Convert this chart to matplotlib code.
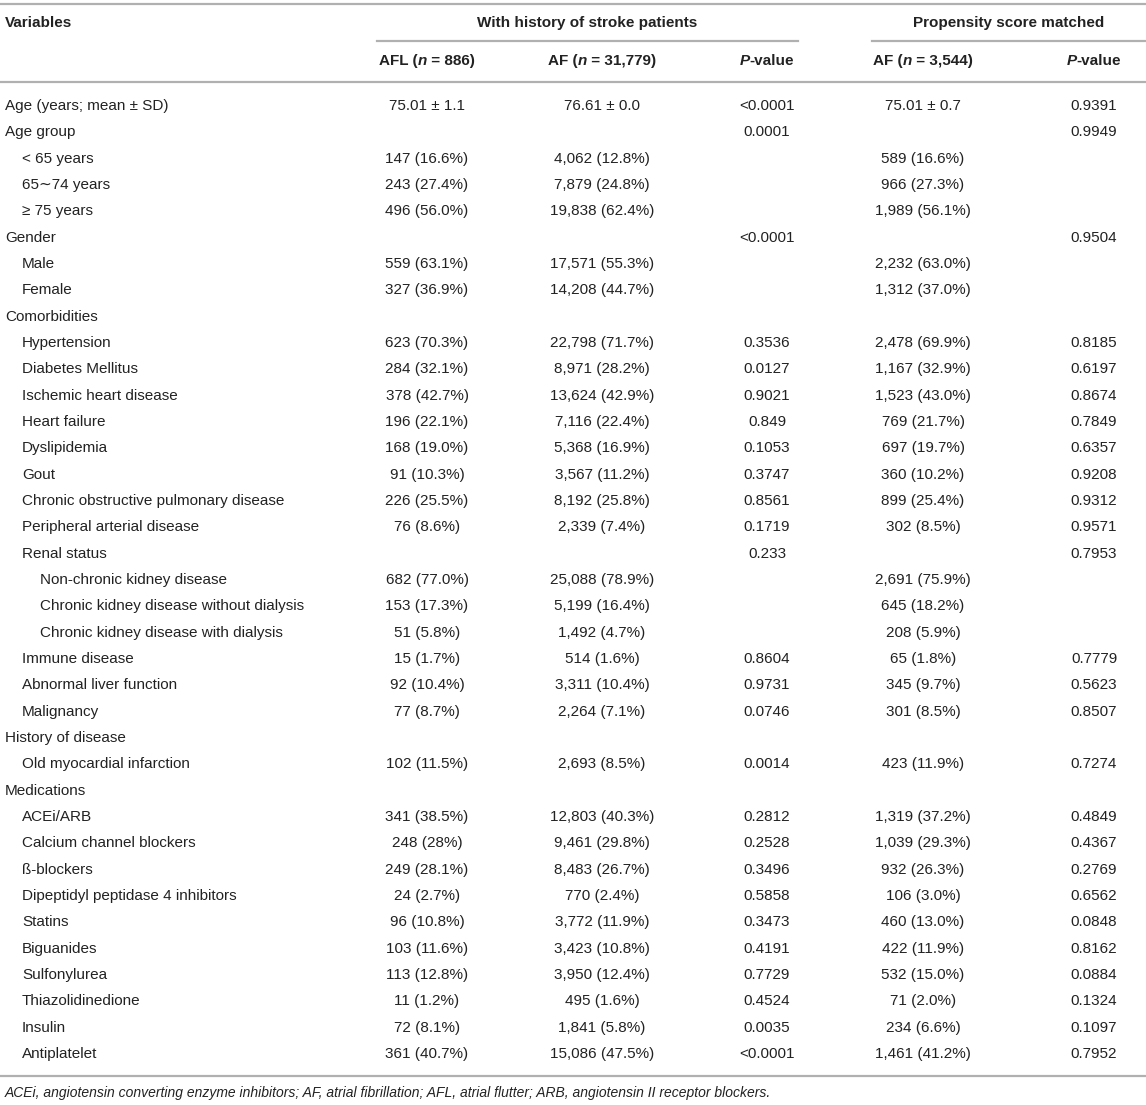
import matplotlib
matplotlib.use("Agg")
import matplotlib.pyplot as plt
from matplotlib.lines import Line2D

W, H = 1146, 1105

# ---- table content -------------------------------------------------------
labels = [
    "Age (years; mean \u00b1 SD)", "Age group", "< 65 years", "65\u223c74 years",
    "\u2265 75 years", "Gender", "Male", "Female", "Comorbidities",
    "Hypertension", "Diabetes Mellitus", "Ischemic heart disease",
    "Heart failure", "Dyslipidemia", "Gout",
    "Chronic obstructive pulmonary disease", "Peripheral arterial disease",
    "Renal status", "Non-chronic kidney disease",
    "Chronic kidney disease without dialysis",
    "Chronic kidney disease with dialysis", "Immune disease",
    "Abnormal liver function", "Malignancy", "History of disease",
    "Old myocardial infarction", "Medications", "ACEi/ARB",
    "Calcium channel blockers", "\u00df-blockers",
    "Dipeptidyl peptidase 4 inhibitors", "Statins", "Biguanides",
    "Sulfonylurea", "Thiazolidinedione", "Insulin", "Antiplatelet",
]
levels = [0, 0, 1, 1, 1, 0, 1, 1, 0,
          1, 1, 1, 1, 1, 1, 1, 1, 1, 2, 2, 2, 1, 1, 1, 0,
          1, 0, 1, 1, 1, 1, 1, 1, 1, 1, 1, 1]
afl = [
    "75.01 \u00b1 1.1", "", "147 (16.6%)", "243 (27.4%)", "496 (56.0%)", "",
    "559 (63.1%)", "327 (36.9%)", "", "623 (70.3%)", "284 (32.1%)",
    "378 (42.7%)", "196 (22.1%)", "168 (19.0%)", "91 (10.3%)", "226 (25.5%)",
    "76 (8.6%)", "", "682 (77.0%)", "153 (17.3%)", "51 (5.8%)", "15 (1.7%)",
    "92 (10.4%)", "77 (8.7%)", "", "102 (11.5%)", "", "341 (38.5%)",
    "248 (28%)", "249 (28.1%)", "24 (2.7%)", "96 (10.8%)", "103 (11.6%)",
    "113 (12.8%)", "11 (1.2%)", "72 (8.1%)", "361 (40.7%)",
]
af = [
    "76.61 \u00b1 0.0", "", "4,062 (12.8%)", "7,879 (24.8%)", "19,838 (62.4%)",
    "", "17,571 (55.3%)", "14,208 (44.7%)", "", "22,798 (71.7%)",
    "8,971 (28.2%)", "13,624 (42.9%)", "7,116 (22.4%)", "5,368 (16.9%)",
    "3,567 (11.2%)", "8,192 (25.8%)", "2,339 (7.4%)", "", "25,088 (78.9%)",
    "5,199 (16.4%)", "1,492 (4.7%)", "514 (1.6%)", "3,311 (10.4%)",
    "2,264 (7.1%)", "", "2,693 (8.5%)", "", "12,803 (40.3%)", "9,461 (29.8%)",
    "8,483 (26.7%)", "770 (2.4%)", "3,772 (11.9%)", "3,423 (10.8%)",
    "3,950 (12.4%)", "495 (1.6%)", "1,841 (5.8%)", "15,086 (47.5%)",
]
p_stroke = [
    "<0.0001", "0.0001", "", "", "", "<0.0001", "", "", "", "0.3536", "0.0127",
    "0.9021", "0.849", "0.1053", "0.3747", "0.8561", "0.1719", "0.233", "", "",
    "", "0.8604", "0.9731", "0.0746", "", "0.0014", "", "0.2812", "0.2528",
    "0.3496", "0.5858", "0.3473", "0.4191", "0.7729", "0.4524", "0.0035",
    "<0.0001",
]
af_psm = [
    "75.01 \u00b1 0.7", "", "589 (16.6%)", "966 (27.3%)", "1,989 (56.1%)", "",
    "2,232 (63.0%)", "1,312 (37.0%)", "", "2,478 (69.9%)", "1,167 (32.9%)",
    "1,523 (43.0%)", "769 (21.7%)", "697 (19.7%)", "360 (10.2%)",
    "899 (25.4%)", "302 (8.5%)", "", "2,691 (75.9%)", "645 (18.2%)",
    "208 (5.9%)", "65 (1.8%)", "345 (9.7%)", "301 (8.5%)", "", "423 (11.9%)",
    "", "1,319 (37.2%)", "1,039 (29.3%)", "932 (26.3%)", "106 (3.0%)",
    "460 (13.0%)", "422 (11.9%)", "532 (15.0%)", "71 (2.0%)", "234 (6.6%)",
    "1,461 (41.2%)",
]
p_psm = [
    "0.9391", "0.9949", "", "", "", "0.9504", "", "", "", "0.8185", "0.6197",
    "0.8674", "0.7849", "0.6357", "0.9208", "0.9312", "0.9571", "0.7953", "",
    "", "", "0.7779", "0.5623", "0.8507", "", "0.7274", "", "0.4849",
    "0.4367", "0.2769", "0.6562", "0.0848", "0.8162", "0.0884", "0.1324",
    "0.1097", "0.7952",
]
footnote = ("ACEi, angiotensin converting enzyme inhibitors; AF, atrial "
            "fibrillation; AFL, atrial flutter; ARB, angiotensin II receptor "
            "blockers.")

# ---- layout (pixels) -----------------------------------------------------
FONT = ["Liberation Sans", "DejaVu Sans"]
FS = 11
TXT = "#222222"
RULE = "#b0b0b0"
col_x = [427, 602, 767, 923, 1094]
indent_x = [5, 22, 40]
row0, row_step = 106, 26.33

fig = plt.figure(figsize=(W / 100, H / 100), dpi=100)
renderer = fig.canvas.get_renderer()


def fx(x):
    return x / W


def fy(y):
    return 1 - y / H


def hline(y, x0, x1):
    fig.add_artist(Line2D([fx(x0), fx(x1)], [fy(y), fy(y)], color=RULE,
                          lw=1.6, transform=fig.transFigure))


def rich(xc, y, parts):
    # parts: list of (text, weight, style); drawn centred on xc
    arts = []
    for s, w, st in parts:
        t = fig.text(0, fy(y), s, fontsize=FS, family=FONT, weight=w,
                     style=st, color=TXT, va="center", ha="left")
        arts.append(t)
    widths = [a.get_window_extent(renderer).width for a in arts]
    x = xc - sum(widths) / 2
    for a, wd in zip(arts, widths):
        a.set_x(fx(x))
        x += wd


# rules
hline(4, 0, W)
hline(41, 377, 798)
hline(41, 872, W)
hline(82, 0, W)
hline(1076, 0, W)

# headers
fig.text(fx(5), fy(23), "Variables", fontsize=FS, family=FONT,
         weight="bold", color=TXT, va="center")
fig.text(fx(587), fy(23), "With history of stroke patients", fontsize=FS,
         family=FONT, weight="bold", color=TXT, va="center", ha="center")
fig.text(fx(1009), fy(23), "Propensity score matched", fontsize=FS,
         family=FONT, weight="bold", color=TXT, va="center", ha="center")

rich(col_x[0], 61, [("AFL (", "bold", "normal"), ("n", "bold", "italic"),
                    (" = 886)", "bold", "normal")])
rich(col_x[1], 61, [("AF (", "bold", "normal"), ("n", "bold", "italic"),
                    (" = 31,779)", "bold", "normal")])
rich(col_x[2], 61, [("P", "bold", "italic"), ("-value", "bold", "normal")])
rich(col_x[3], 61, [("AF (", "bold", "normal"), ("n", "bold", "italic"),
                    (" = 3,544)", "bold", "normal")])
rich(col_x[4], 61, [("P", "bold", "italic"), ("-value", "bold", "normal")])

# body
for i, lab in enumerate(labels):
    y = row0 + i * row_step
    fig.text(fx(indent_x[levels[i]]), fy(y), lab, fontsize=FS, family=FONT,
             color=TXT, va="center")
    for cx, vals in zip(col_x, [afl, af, p_stroke, af_psm, p_psm]):
        if vals[i]:
            fig.text(fx(cx), fy(y), vals[i], fontsize=FS, family=FONT,
                     color=TXT, va="center", ha="center")

fig.text(fx(5), fy(1093), footnote, fontsize=10, family=FONT,
         style="italic", color=TXT, va="center")

fig.savefig("out.png", dpi=100)
